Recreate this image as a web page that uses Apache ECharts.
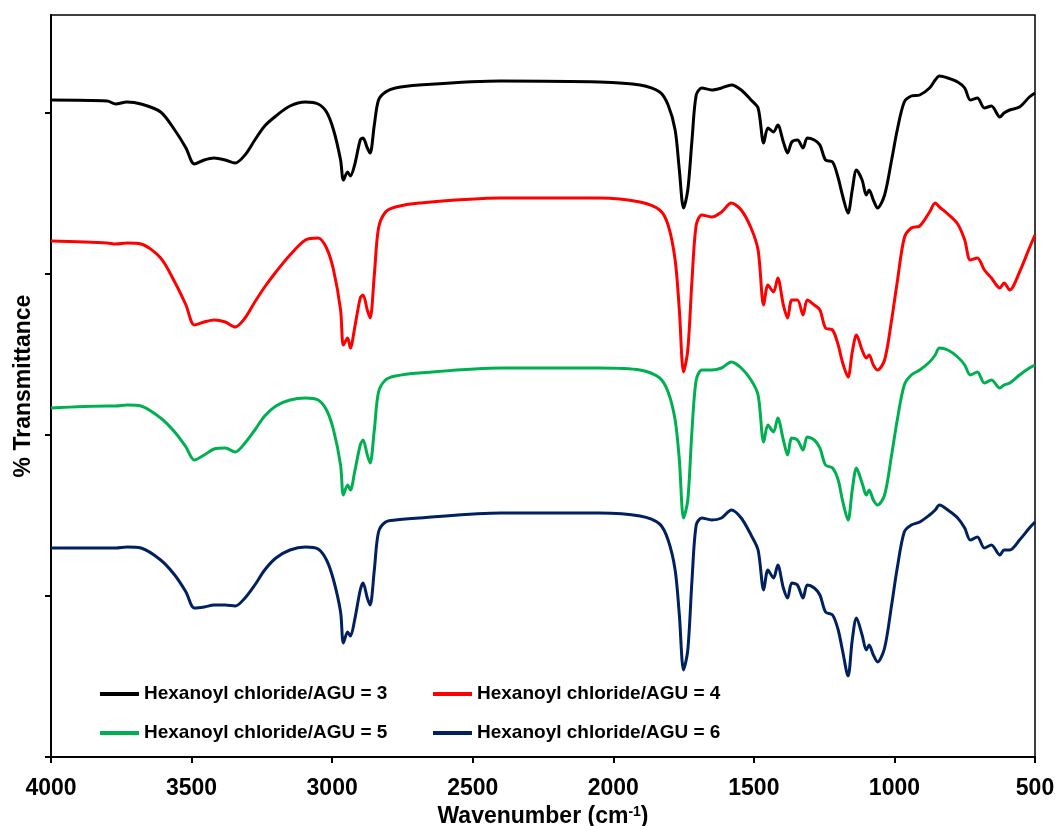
<!DOCTYPE html>
<html>
<head>
<meta charset="utf-8">
<title>FTIR spectra</title>
<script src="https://cdn.jsdelivr.net/npm/echarts@6/dist/echarts.min.js"></script>
<style>
  html, body { margin: 0; padding: 0; background: #fff; }
  #chart { width: 1059px; height: 826px; }
</style>
</head>
<body>
<div id="chart"></div>
<script>
// Wavenumber positions (cm-1) shared by all four spectra
const wavenumbers = [4000, 3800, 3770, 3730, 3680, 3610, 3560, 3520, 3490, 3455,
  3420, 3380, 3345, 3310, 3275, 3240, 3200, 3150, 3095, 3050,
  3020, 2995, 2970, 2960, 2945, 2935, 2920, 2900, 2890, 2875,
  2865, 2850, 2835, 2810, 2775, 2690, 2400, 2050, 1905, 1835,
  1805, 1780, 1765, 1750, 1735, 1720, 1705, 1685, 1650, 1615,
  1580, 1545, 1510, 1485, 1465, 1450, 1430, 1415, 1395, 1380,
  1365, 1345, 1325, 1310, 1285, 1265, 1245, 1220, 1200, 1185,
  1165, 1150, 1135, 1115, 1100, 1090, 1075, 1060, 1035, 1010,
  990, 965, 940, 910, 875, 855, 840, 810, 775, 750,
  730, 705, 680, 655, 625, 610, 590, 555, 520, 500];

// Offset transmittance traces (arbitrary units, stacked)
const ratio3 = [65.7, 65.6, 65.3, 65.5, 65.3, 64.5, 62.7, 60.9, 59.3, 59.7,
  59.9, 59.7, 59.4, 60.2, 61.7, 63.1, 64.1, 65.1, 65.5, 65.3,
  64.5, 62.7, 59.7, 57.7, 58.5, 58.1, 59.2, 61.7, 61.9, 60.9,
  60.4, 63.2, 65.7, 66.5, 66.9, 67.2, 67.6, 67.5, 67.2, 66.5,
  65.2, 62.7, 58.7, 54.9, 56.7, 61.7, 66.2, 66.9, 66.7, 66.9,
  67.2, 66.7, 65.7, 64.9, 61.4, 62.9, 62.5, 63.2, 61.5, 60.4,
  61.5, 61.7, 60.9, 61.9, 61.7, 61.2, 59.7, 59.5, 57.9, 56.2,
  54.4, 56.7, 58.7, 57.7, 56.2, 56.7, 55.7, 54.9, 56.2, 59.7,
  62.7, 65.5, 66.1, 66.2, 66.9, 67.7, 68.1, 67.9, 67.5, 66.9,
  65.7, 65.9, 64.9, 65.1, 64.0, 64.4, 64.7, 65.0, 66.0, 66.4];

const ratio4 = [51.6, 51.4, 51.3, 51.4, 51.3, 49.9, 47.5, 45.2, 43.2, 43.5,
  43.7, 43.5, 43.0, 43.9, 45.5, 47.0, 48.5, 50.2, 51.7, 51.9,
  50.9, 48.7, 44.7, 41.2, 41.9, 40.9, 42.9, 45.9, 46.2, 44.7,
  43.9, 48.2, 52.9, 54.5, 55.0, 55.4, 55.9, 55.9, 55.5, 54.7,
  53.2, 49.7, 44.7, 38.5, 40.7, 47.7, 53.2, 54.2, 54.0, 54.5,
  55.4, 54.7, 52.9, 50.7, 45.2, 47.2, 46.5, 47.9, 45.2, 43.9,
  45.7, 45.7, 44.2, 45.7, 45.2, 44.7, 42.9, 42.7, 41.2, 39.5,
  38.0, 40.5, 42.2, 40.7, 39.9, 40.2, 39.2, 38.7, 39.7, 43.7,
  47.5, 51.9, 52.9, 53.1, 54.5, 55.4, 55.0, 54.3, 53.3, 51.7,
  49.7, 49.9, 48.7, 47.9, 46.9, 47.4, 46.7, 48.5, 50.9, 52.2];

const ratio5 = [34.9, 35.1, 35.1, 35.2, 35.1, 33.9, 32.5, 31.0, 29.7, 30.2,
  30.8, 30.9, 30.5, 31.4, 32.7, 34.1, 35.1, 35.7, 35.9, 35.7,
  34.7, 32.7, 29.2, 26.2, 27.2, 26.7, 28.5, 31.2, 31.7, 30.2,
  29.4, 32.7, 36.5, 37.7, 38.1, 38.4, 38.9, 38.9, 38.7, 37.9,
  36.5, 33.7, 29.7, 23.9, 25.7, 32.7, 37.7, 38.7, 38.7, 38.9,
  39.5, 38.9, 37.7, 36.2, 31.5, 33.2, 32.5, 33.9, 31.7, 30.2,
  31.9, 31.7, 30.7, 32.0, 31.7, 30.9, 29.2, 28.9, 27.7, 25.7,
  23.7, 26.7, 28.9, 27.4, 26.2, 26.7, 25.7, 25.2, 26.2, 30.2,
  33.7, 37.2, 38.2, 38.7, 39.5, 40.2, 40.9, 40.7, 40.0, 39.2,
  38.2, 38.5, 37.4, 37.7, 36.9, 37.2, 37.4, 38.2, 38.9, 39.2];

const ratio6 = [20.9, 20.9, 20.9, 21.0, 20.9, 19.7, 18.2, 16.5, 14.9, 15.0,
  15.2, 15.2, 15.1, 15.9, 17.2, 18.7, 19.9, 20.7, 21.0, 20.8,
  19.7, 17.7, 14.5, 11.4, 12.5, 12.1, 13.7, 16.7, 17.4, 15.9,
  15.2, 18.7, 22.5, 23.5, 23.7, 23.9, 24.4, 24.4, 24.1, 23.3,
  21.7, 18.7, 14.2, 8.7, 10.7, 17.7, 23.2, 23.9, 23.7, 23.9,
  24.7, 23.9, 22.2, 20.7, 16.7, 18.7, 17.9, 19.2, 16.9, 15.9,
  17.4, 17.2, 15.9, 17.2, 16.9, 16.2, 14.5, 14.2, 12.7, 10.7,
  8.1, 11.7, 13.9, 12.2, 10.7, 11.2, 10.2, 9.5, 10.9, 15.2,
  18.9, 22.5, 23.2, 23.5, 24.2, 24.7, 25.2, 24.7, 23.9, 22.9,
  21.7, 22.0, 20.9, 21.2, 20.2, 20.7, 20.7, 21.7, 22.9, 23.5];

const seriesNames = [
  'Hexanoyl chloride/AGU = 3',
  'Hexanoyl chloride/AGU = 4',
  'Hexanoyl chloride/AGU = 5',
  'Hexanoyl chloride/AGU = 6'
];
const seriesColors = ['#000000', '#ff0000', '#00b050', '#002060'];
const seriesValues = [ratio3, ratio4, ratio5, ratio6];

const yTicks = [0, 16.1, 32.2, 48.3, 64.4];
const FONT = 'Liberation Sans, Arial, sans-serif';

const chart = echarts.init(document.getElementById('chart'), null, { renderer: 'canvas' });

const series = seriesNames.map((name, i) => ({
  name: name,
  type: 'line',
  data: wavenumbers.map((w, k) => [w, seriesValues[i][k]]),
  showSymbol: false,
  smooth: 0.3,
  lineStyle: { color: seriesColors[i], width: 3 },
  itemStyle: { color: seriesColors[i] },
  emphasis: { disabled: true },
  animation: false
}));

const legendText = {
  fontFamily: FONT, fontWeight: 'bold', fontSize: 19, color: '#000', lineHeight: 20
};

chart.setOption({
  backgroundColor: '#ffffff',
  animation: false,
  grid: {
    left: 51, right: 24, top: 15, bottom: 69,
    outerBoundsMode: 'none',
    containLabel: false,
    show: true, borderColor: '#000', borderWidth: 1.5, backgroundColor: 'transparent'
  },
  legend: [
    {
      data: [seriesNames[0], seriesNames[2]],
      orient: 'vertical', left: 100, top: 684, padding: 0,
      icon: 'rect', itemWidth: 39, itemHeight: 4, itemGap: 19,
      textStyle: legendText, selectedMode: false
    },
    {
      data: [seriesNames[1], seriesNames[3]],
      orient: 'vertical', left: 433, top: 684, padding: 0,
      icon: 'rect', itemWidth: 39, itemHeight: 4, itemGap: 19,
      textStyle: legendText, selectedMode: false
    }
  ],
  xAxis: {
    type: 'value',
    inverse: true,
    min: 500, max: 4000, interval: 500,
    axisLine: { show: true, lineStyle: { color: '#000', width: 2 } },
    axisTick: { show: true, inside: false, length: 6, lineStyle: { color: '#000', width: 2 } },
    splitLine: { show: false },
    axisLabel: {
      fontFamily: FONT, fontWeight: 'bold', fontSize: 23, color: '#000', margin: 20,
      formatter: (v) => String(v)
    },
    name: '{a|Wavenumber (cm}{s|-1}{a|)}',
    nameLocation: 'middle',
    nameGap: 44,
    nameTextStyle: {
      rich: {
        a: { fontFamily: FONT, fontWeight: 'bold', fontSize: 23, color: '#000' },
        s: { fontFamily: FONT, fontWeight: 'bold', fontSize: 14, color: '#000',
             verticalAlign: 'top', padding: [0, 0, 10, 0] }
      }
    }
  },
  yAxis: {
    type: 'value',
    min: 0, max: 74.2, interval: 16.1,
    axisLine: { show: true, lineStyle: { color: '#000', width: 2 } },
    axisTick: { show: true, inside: false, length: 6, customValues: yTicks,
                lineStyle: { color: '#000', width: 2 } },
    axisLabel: { show: false },
    splitLine: { show: false },
    name: '% Transmittance',
    nameLocation: 'middle',
    nameGap: 16,
    nameTextStyle: { fontFamily: FONT, fontWeight: 'bold', fontSize: 23, color: '#000' }
  },
  series: series
});
</script>
</body>
</html>
